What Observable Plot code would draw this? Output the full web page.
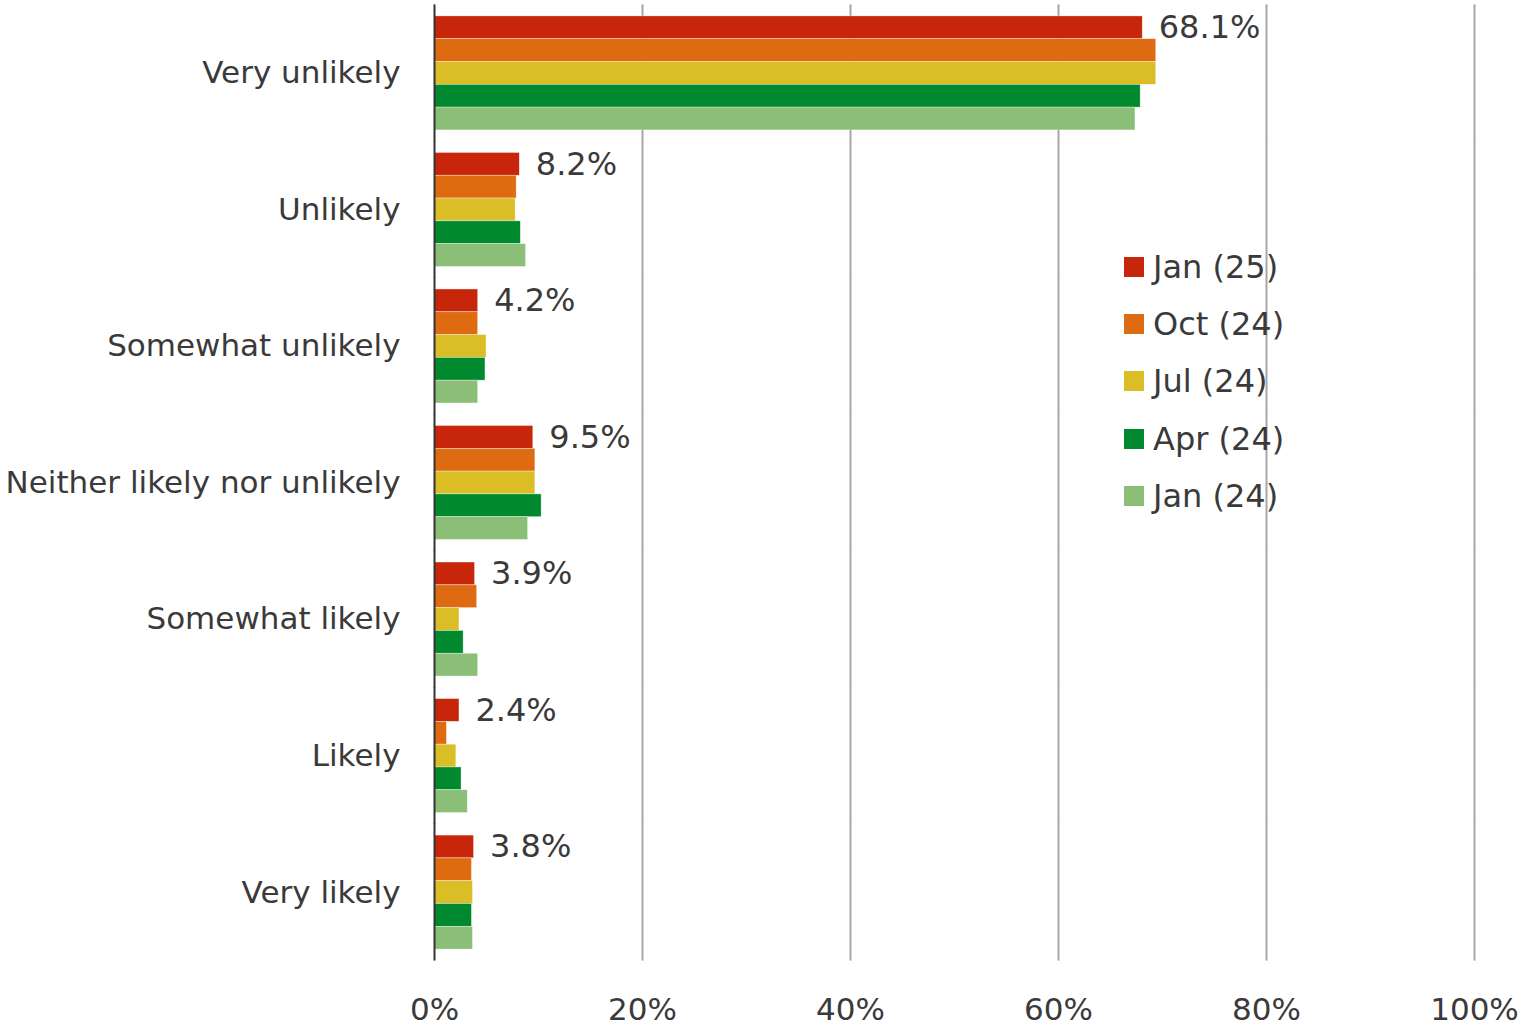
<!DOCTYPE html>
<html>
<head>
<meta charset="utf-8">
<script src="https://cdn.jsdelivr.net/npm/d3@7"></script>
<script src="https://cdn.jsdelivr.net/npm/@observablehq/plot@0.6"></script>
<style>
  html, body { margin: 0; padding: 0; background: #fff; }
  #wrap { position: relative; width: 1523px; height: 1026px; font-family: "DejaVu Sans", Verdana, sans-serif; }
  #legend { position: absolute; left: 1124px; top: 238px; color: #3a3a3a; font-size: 32px; }
  #legend .row { display: flex; align-items: center; height: 57.3px; }
  #legend .sw { width: 20px; height: 20px; margin-right: 9px; }
</style>
</head>
<body>
<div id="wrap"><div id="chart"></div><div id="legend"></div></div>
<script>
const categories = ["Very unlikely", "Unlikely", "Somewhat unlikely", "Neither likely nor unlikely", "Somewhat likely", "Likely", "Very likely"];
const series = ["Jan (25)", "Oct (24)", "Jul (24)", "Apr (24)", "Jan (24)"];
const colors = ["#C8260A", "#DE6A12", "#DBBE26", "#00892E", "#8BBF78"];
const jan25 = [68.1, 8.2, 4.2, 9.5, 3.9, 2.4, 3.8];
const oct24 = [69.4, 7.9, 4.2, 9.7, 4.1, 1.2, 3.6];
const jul24 = [69.4, 7.8, 5.0, 9.7, 2.4, 2.1, 3.7];
const apr24 = [67.9, 8.3, 4.9, 10.3, 2.8, 2.6, 3.6];
const jan24b = [67.4, 8.8, 4.2, 9.0, 4.2, 3.2, 3.7];
const xTicks = [0, 20, 40, 60, 80, 100];
const gridTicks = [20, 40, 60, 80, 100];

const seriesValues = [jan25, oct24, jul24, apr24, jan24b];
const data = [];
categories.forEach((c, i) => {
  series.forEach((s, j) => {
    data.push({category: c, series: s, value: seriesValues[j][i]});
  });
});
const labelData = data.filter(d => d.series === series[0]);

const textColor = "#3a3a3a";
const plot = Plot.plot({
  width: 1523,
  height: 1026,
  marginLeft: 434,
  marginRight: 49,
  marginTop: 5,
  marginBottom: 66,
  style: {fontFamily: "'DejaVu Sans', Verdana, sans-serif", fontSize: "31px", color: textColor, background: "#fff", overflow: "visible"},
  x: {domain: [0, 100], axis: null},
  y: {domain: series, axis: null, padding: 0, round: false},
  fy: {domain: categories, paddingInner: 0.165, paddingOuter: 0.08, axis: null, label: null, round: false},
  color: {domain: series, range: colors},
  marks: [
    Plot.ruleX(gridTicks, {x: d => d, stroke: "#A6A6A6", strokeWidth: 2, insetTop: -11.5, insetBottom: -11.5}),
    Plot.barX(data, {x: "value", y: "series", fy: "category", fill: "series", stroke: "#fff", strokeWidth: 0.6, strokeOpacity: 0.6}),
    Plot.text(labelData, {x: "value", y: "series", fy: "category", text: d => d.value.toFixed(1) + "%", dx: 16, textAnchor: "start", fill: textColor, fontSize: 32}),
    Plot.ruleX([0], {x: d => d, stroke: "#333", strokeWidth: 2, insetTop: -11.5, insetBottom: -11.5}),
    Plot.axisFy({anchor: "left", tickSize: 0, tickPadding: 34, label: null, fontSize: 31, fill: textColor}),
    Plot.axisX(xTicks, {anchor: "bottom", tickSize: 0, tickPadding: 48, tickFormat: d => d + "%", label: null, fontSize: 31, fill: textColor})
  ]
});
document.getElementById("chart").appendChild(plot);

const legend = document.getElementById("legend");
series.forEach((s, i) => {
  const row = document.createElement("div");
  row.className = "row";
  const sw = document.createElement("div");
  sw.className = "sw";
  sw.style.background = colors[i];
  const t = document.createElement("span");
  t.textContent = s;
  row.appendChild(sw);
  row.appendChild(t);
  legend.appendChild(row);
});
</script>
</body>
</html>
